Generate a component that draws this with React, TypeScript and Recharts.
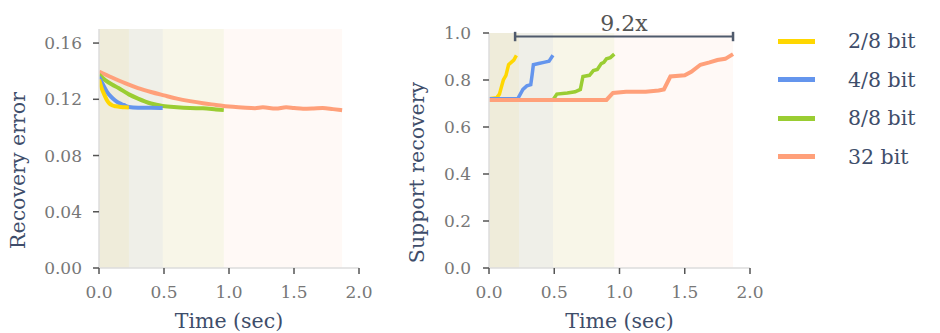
import React from "react";
import {
  Label,
  Line,
  LineChart,
  ReferenceArea,
  ReferenceLine,
  XAxis,
  YAxis,
} from "recharts";

// series meta
const NAMES = ["2/8 bit", "4/8 bit", "8/8 bit", "32 bit"];
const COLORS = ["#FFD700", "#6495ED", "#9ACD32", "#FFA07A"];
const END_TIMES = [0.23, 0.49, 0.96, 1.87];

// recovery error vs time
const ERR_T = [
  [0, 0.02, 0.04, 0.06, 0.08, 0.1, 0.13, 0.17, 0.2, 0.23],
  [0, 0.03, 0.06, 0.09, 0.12, 0.15, 0.19, 0.23, 0.3, 0.4, 0.49],
  [0, 0.05, 0.1, 0.15, 0.23, 0.3, 0.4, 0.49, 0.6, 0.7, 0.8, 0.9, 0.96],
  [0, 0.1, 0.2, 0.3, 0.4, 0.5, 0.6, 0.7, 0.8, 0.9, 1.0, 1.1, 1.2, 1.26, 1.36, 1.44, 1.5, 1.57, 1.65, 1.72, 1.8, 1.87],
];
const ERR_V = [
  [0.134, 0.128, 0.1235, 0.1195, 0.117, 0.1158, 0.115, 0.1145, 0.1143, 0.1142],
  [0.136, 0.1305, 0.1255, 0.122, 0.1195, 0.1175, 0.116, 0.1145, 0.114, 0.1139, 0.1138],
  [0.1375, 0.1335, 0.1305, 0.128, 0.1235, 0.1205, 0.117, 0.1152, 0.1143, 0.1138, 0.1136, 0.1128, 0.1123],
  [0.1398, 0.1355, 0.1315, 0.128, 0.1252, 0.1228, 0.1205, 0.1187, 0.1172, 0.116, 0.1148, 0.1142, 0.1137, 0.1143, 0.1134, 0.1143, 0.1138, 0.1133, 0.1135, 0.1138, 0.113, 0.1122],
];

// support recovery vs time
const SUP_T = [
  [0, 0.06, 0.08, 0.09, 0.11, 0.13, 0.15, 0.17, 0.19, 0.21],
  [0, 0.22, 0.24, 0.26, 0.29, 0.32, 0.33, 0.34, 0.38, 0.42, 0.46, 0.49],
  [0, 0.47, 0.49, 0.52, 0.6, 0.66, 0.7, 0.72, 0.77, 0.8, 0.83, 0.86, 0.88, 0.9, 0.93, 0.96],
  [0, 0.3, 0.6, 0.9, 0.95, 1.05, 1.2, 1.3, 1.34, 1.39, 1.5, 1.55, 1.62, 1.69, 1.75, 1.81, 1.87],
];
const SUP_V = [
  [0.72, 0.725, 0.74, 0.76, 0.8, 0.82, 0.865, 0.875, 0.885, 0.905],
  [0.72, 0.72, 0.74, 0.76, 0.775, 0.78, 0.82, 0.865, 0.87, 0.875, 0.88, 0.905],
  [0.715, 0.715, 0.715, 0.74, 0.745, 0.75, 0.76, 0.815, 0.82, 0.84, 0.845, 0.87, 0.875, 0.89, 0.895, 0.91],
  [0.715, 0.715, 0.715, 0.715, 0.745, 0.75, 0.75, 0.755, 0.76, 0.815, 0.82, 0.835, 0.865, 0.875, 0.885, 0.89, 0.91],
];

const ERR_TICKS = [0, 0.04, 0.08, 0.12, 0.16];
const SUP_TICKS = [0, 0.2, 0.4, 0.6, 0.8, 1.0];
const TIME_TICKS = [0, 0.5, 1.0, 1.5, 2.0];
const SPEEDUP = { from: 0.2, to: 1.87, level: 0.985, text: "9.2x" };

const zip = (ts: number[], vs: number[]) => ts.map((t, i) => ({ t, v: vs[i] }));

const FONT = "'DejaVu Serif', serif";
const TICK = { fontSize: 17, fill: "#777", fontFamily: FONT };
const LABEL_COLOR = "#3e4d6a";

const AxisTitleY = (text: string, x: number) => (props: any) => {
  const vb = props.viewBox;
  const cy = vb.y + vb.height / 2 + 22;
  return (
    <text
      x={x}
      y={cy}
      transform={`rotate(-90, ${x}, ${cy})`}
      textAnchor="middle"
      dominantBaseline="central"
      fontSize={20.5}
      fontFamily={FONT}
      fill={LABEL_COLOR}
    >
      {text}
    </text>
  );
};

const Bands = () =>
  END_TIMES.map((end, i) => (
    <ReferenceArea
      key={i}
      x1={0}
      x2={end}
      fill={COLORS[i]}
      fillOpacity={0.065}
      stroke="none"
      ifOverflow="visible"
    />
  ));

const timeAxis = (
  <XAxis
    type="number"
    dataKey="t"
    domain={[0, 2]}
    ticks={TIME_TICKS}
    tickFormatter={(v) => v.toFixed(1)}
    tick={TICK}
    tickSize={6}
    tickMargin={12}
    axisLine={{ stroke: "#dcdcdc", strokeWidth: 1.5 }}
    tickLine={{ stroke: "#555", strokeWidth: 1.5 }}
    height={65}
    allowDataOverflow
  >
    <Label
      value="Time (sec)"
      position="insideBottom"
      offset={5}
      style={{ fontSize: 20.5, fontFamily: FONT, fill: LABEL_COLOR }}
    />
  </XAxis>
);

export default function App() {
  return (
    <div style={{ position: "absolute", left: 0, top: 0, width: 940, height: 333, background: "#fff" }}>
      <div style={{ position: "absolute", left: 0, top: 0 }}>
        <LineChart width={380} height={333} margin={{ top: 29, right: 21, bottom: 0, left: 0 }}>
          {Bands()}
          {timeAxis}
          <YAxis
            type="number"
            domain={[0, 0.17]}
            ticks={ERR_TICKS}
            tickFormatter={(v) => v.toFixed(2)}
            tick={TICK}
            tickSize={6}
            tickMargin={11}
            axisLine={{ stroke: "#dcdcdc", strokeWidth: 1.5 }}
            tickLine={{ stroke: "#555", strokeWidth: 1.5 }}
            width={99}
          >
            <Label content={AxisTitleY("Recovery error", 18)} />
          </YAxis>
          {[3, 2, 1, 0].map((i) => (
            <Line
              key={i}
              data={zip(ERR_T[i], ERR_V[i])}
              dataKey="v"
              type="monotone"
              stroke={COLORS[i]}
              strokeWidth={4}
              dot={false}
              isAnimationActive={false}
            />
          ))}
        </LineChart>
      </div>
      <div style={{ position: "absolute", left: 380, top: 0 }}>
        <LineChart width={400} height={333} margin={{ top: 33, right: 30, bottom: 0, left: 0 }}>
          {Bands()}
          {timeAxis}
          <YAxis
            type="number"
            domain={[0, 1.0]}
            ticks={SUP_TICKS}
            tickFormatter={(v) => v.toFixed(1)}
            tick={TICK}
            tickSize={6}
            tickMargin={12}
            axisLine={{ stroke: "#dcdcdc", strokeWidth: 1.5 }}
            tickLine={{ stroke: "#555", strokeWidth: 1.5 }}
            width={109}
          >
            <Label content={AxisTitleY("Support recovery", 37)} />
          </YAxis>
          {[0, 1, 2, 3].map((i) => (
            <Line
              key={i}
              data={zip(SUP_T[i], SUP_V[i])}
              dataKey="v"
              type="linear"
              stroke={COLORS[i]}
              strokeWidth={i === 3 ? 4 : 3.5}
              dot={false}
              isAnimationActive={false}
            />
          ))}
          <ReferenceLine
            segment={[
              { x: SPEEDUP.from, y: SPEEDUP.level },
              { x: SPEEDUP.to, y: SPEEDUP.level },
            ]}
            stroke="#4f5a6c"
            strokeWidth={2}
            ifOverflow="visible"
            label={{
              value: SPEEDUP.text,
              position: "top",
              offset: 6,
              style: { fontSize: 22, fontFamily: FONT, fill: "#555" },
            }}
          />
          {[SPEEDUP.from, SPEEDUP.to].map((x) => (
            <ReferenceLine
              key={x}
              segment={[
                { x, y: SPEEDUP.level - 0.02 },
                { x, y: SPEEDUP.level + 0.02 },
              ]}
              stroke="#4f5a6c"
              strokeWidth={2.5}
              ifOverflow="visible"
            />
          ))}
        </LineChart>
      </div>
      <div style={{ position: "absolute", left: 778, top: 22, fontFamily: FONT, color: LABEL_COLOR, fontSize: 20.5 }}>
        {NAMES.map((n, i) => (
          <div key={n} style={{ display: "flex", alignItems: "center", height: 38.5 }}>
            <span style={{ display: "inline-block", width: 37, height: 5, background: COLORS[i], marginRight: 33 }} />
            <span>{n}</span>
          </div>
        ))}
      </div>
    </div>
  );
}
